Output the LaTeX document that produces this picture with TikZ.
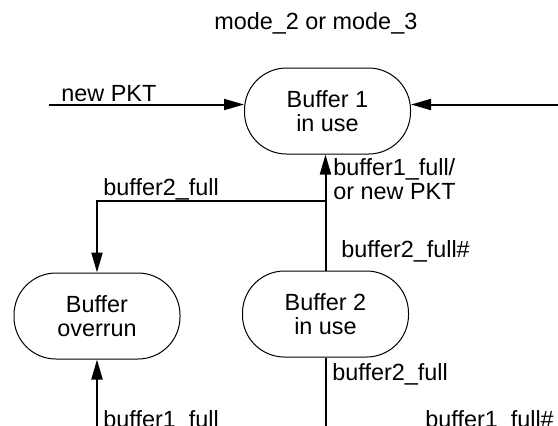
\documentclass[tikz,border=0pt]{standalone}
\usepackage{fontspec}
\setmainfont{Liberation Sans}
\usetikzlibrary{arrows.meta}

\begin{document}
\begin{tikzpicture}[x=0.5pt, y=-0.5pt, >={Triangle[length=10pt, width=5.5pt]},
    font=\fontsize{11.7}{12}\selectfont,
    state/.style={draw, line width=0.5pt, rounded corners=21pt, minimum width=83pt, minimum height=43pt, align=center, inner sep=0pt},
    wire/.style={line width=1pt},
    lbl/.style={inner sep=0pt, anchor=base west}]
    \useasboundingbox (0,0) rectangle (558,425);
    % states
    \node[state] (buf1) at (327.5,111) {Buffer 1\\in use};
    \node[state] (buf2) at (325.5,314) {Buffer 2\\in use};
    \node[state] (ovr) at (97,316) {Buffer\\overrun};
    % free ends
    \coordinate (pktin) at (49,104.5);
    \coordinate (rightin) at (560,104.5);
    \coordinate (split) at (buf2.north |- 0,201);
    \coordinate (ovrin) at (97,432);
    \coordinate (buf2out) at (buf2.south |- 0,432);
    % connectors
    \draw[wire, ->] (pktin) -- (pktin -| buf1.west);
    \draw[wire, ->] (rightin) -- (rightin -| buf1.east);
    \draw[wire, ->] (buf2.north) -- (buf2.north |- buf1.south);
    \draw[wire, ->] (split) -| (ovr.north);
    \draw[wire, ->] (ovrin) -- (ovr.south);
    \draw[wire] (buf2.south) -- (buf2out);
    % labels
    \node[lbl] (title) at (214,29) {mode\_2 or mode\_3};
    \node[lbl] (lblpkt) at (61,101) {new PKT};
    \node[lbl] (lblb2up) at (103,195) {buffer2\_full};
    \node[lbl, anchor=north west, align=left] (lblb1full) at (333,158.5) {buffer1\_full/\\or new PKT};
    \node[lbl] (lblb2hash) at (341,257) {buffer2\_full\#};
    \node[lbl] (lblb2low) at (332,380) {buffer2\_full};
    \node[lbl] (lblb1low) at (103,427) {buffer1\_full};
    \node[lbl] (lblb1hash) at (425,427) {buffer1\_full\#};
\end{tikzpicture}
\end{document}
